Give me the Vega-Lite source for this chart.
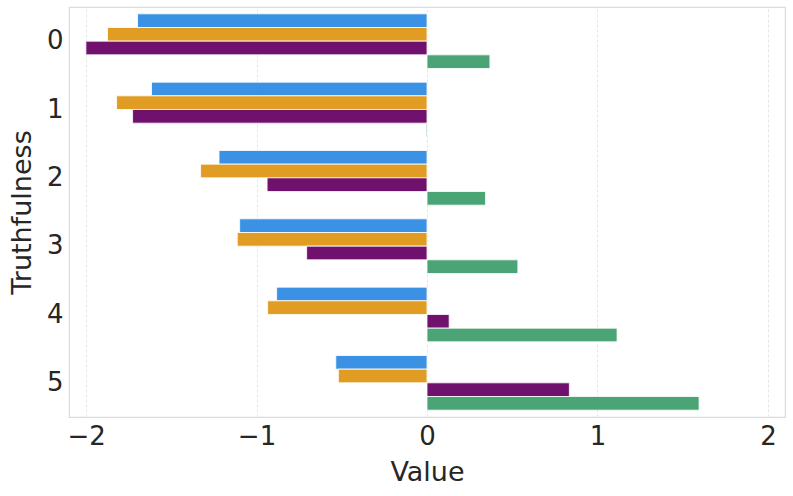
{
  "$schema": "https://vega.github.io/schema/vega-lite/v6.json",
  "width": 716,
  "height": 410,
  "autosize": {"type": "none"},
  "padding": {"left": 69, "top": 7, "right": 8, "bottom": 79},
  "background": "white",
  "config": {
    "font": "DejaVu Sans",
    "view": {"stroke": "#dcdcdc", "strokeWidth": 1.2},
    "axis": {"labelColor": "#262626", "titleColor": "#262626", "labelFont": "DejaVu Sans", "titleFont": "DejaVu Sans", "titleFontWeight": "normal"}
  },
  "data": {
    "values": [
      {"Truthfulness": "0", "Series": "S1", "Value": -1.698},
      {"Truthfulness": "0", "Series": "S2", "Value": -1.874},
      {"Truthfulness": "0", "Series": "S3", "Value": -2.001},
      {"Truthfulness": "0", "Series": "S4", "Value": 0.369},
      {"Truthfulness": "1", "Series": "S1", "Value": -1.616},
      {"Truthfulness": "1", "Series": "S2", "Value": -1.821},
      {"Truthfulness": "1", "Series": "S3", "Value": -1.727},
      {"Truthfulness": "1", "Series": "S4", "Value": -0.005},
      {"Truthfulness": "2", "Series": "S1", "Value": -1.220},
      {"Truthfulness": "2", "Series": "S2", "Value": -1.328},
      {"Truthfulness": "2", "Series": "S3", "Value": -0.938},
      {"Truthfulness": "2", "Series": "S4", "Value": 0.343},
      {"Truthfulness": "3", "Series": "S1", "Value": -1.099},
      {"Truthfulness": "3", "Series": "S2", "Value": -1.113},
      {"Truthfulness": "3", "Series": "S3", "Value": -0.706},
      {"Truthfulness": "3", "Series": "S4", "Value": 0.533},
      {"Truthfulness": "4", "Series": "S1", "Value": -0.882},
      {"Truthfulness": "4", "Series": "S2", "Value": -0.935},
      {"Truthfulness": "4", "Series": "S3", "Value": 0.130},
      {"Truthfulness": "4", "Series": "S4", "Value": 1.115},
      {"Truthfulness": "5", "Series": "S1", "Value": -0.535},
      {"Truthfulness": "5", "Series": "S2", "Value": -0.520},
      {"Truthfulness": "5", "Series": "S3", "Value": 0.835},
      {"Truthfulness": "5", "Series": "S4", "Value": 1.596}
    ]
  },
  "mark": {"type": "bar", "stroke": "white", "strokeWidth": 0.8},
  "encoding": {
    "y": {
      "field": "Truthfulness",
      "type": "ordinal",
      "sort": ["0", "1", "2", "3", "4", "5"],
      "scale": {"paddingInner": 0.2, "paddingOuter": 0.1},
      "axis": {"labelFontSize": 26, "titleFontSize": 27, "labelPadding": 6, "titlePadding": 10, "ticks": false, "domain": false, "grid": false, "labelAngle": 0}
    },
    "yOffset": {
      "field": "Series",
      "type": "nominal",
      "sort": ["S1", "S2", "S3", "S4"],
      "scale": {"paddingInner": 0, "paddingOuter": 0}
    },
    "x": {
      "field": "Value",
      "type": "quantitative",
      "scale": {"domain": [-2.1, 2.1], "nice": false, "zero": false},
      "axis": {"values": [-2, -1, 0, 1, 2], "labelFontSize": 26, "titleFontSize": 27, "labelPadding": 6, "titlePadding": 10, "ticks": false, "domain": false, "grid": true, "gridColor": "#e6e6e6", "gridDash": [3, 2], "gridWidth": 1}
    },
    "color": {
      "field": "Series",
      "type": "nominal",
      "scale": {"domain": ["S1", "S2", "S3", "S4"], "range": ["#3b91e3", "#e19d23", "#71116e", "#4ba475"]},
      "legend": null
    }
  }
}
